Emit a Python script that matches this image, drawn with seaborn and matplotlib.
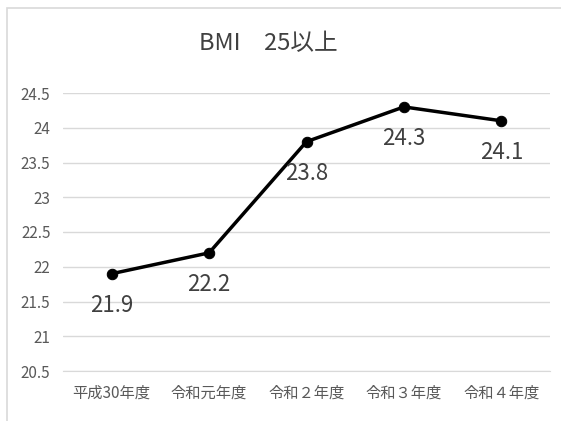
import matplotlib
matplotlib.use('Agg')
import matplotlib.pyplot as plt
import matplotlib.patches as patches
import seaborn as sns
import pandas as pd
from matplotlib.ticker import FuncFormatter

years = ['平成30年度', '令和元年度', '令和２年度', '令和３年度', '令和４年度']
bmi_values = [21.9, 22.2, 23.8, 24.3, 24.1]
y_ticks = [20.5, 21, 21.5, 22, 22.5, 23, 23.5, 24, 24.5]
title = 'BMI\u300025以上'

sns.set_style('white')
plt.rcParams['font.family'] = ['Noto Sans CJK JP', 'DejaVu Sans']

df = pd.DataFrame({'year': years, 'bmi': bmi_values})
df['pos'] = range(len(years))

fig = plt.figure(figsize=(5.61, 4.21), dpi=100)
# chart area border like the spreadsheet export
fig.patches.append(patches.Rectangle((7 / 561, -0.1), 1.0, 1 - 8 / 421 + 0.1,
                                     transform=fig.transFigure, fill=False,
                                     edgecolor='#d9d9d9', linewidth=1.2))
ax = fig.add_axes([63 / 561, 50 / 421, 487 / 561, 278 / 421])

sns.lineplot(data=df, x='pos', y='bmi', ax=ax, color='black', linewidth=2.5,
             marker='o', markersize=7.5, markeredgecolor='black')

for x, y in zip(df['pos'], df['bmi']):
    ax.annotate(f'{y:.1f}', (x, y), xytext=(0, -23), textcoords='offset points',
                ha='center', va='center', fontsize=16, color='#404040')

ax.set_xlim(-0.5, len(years) - 0.5)
ax.set_ylim(20.5, 24.5)
ax.set_yticks(y_ticks)
ax.yaxis.set_major_formatter(FuncFormatter(lambda v, p: f'{v:g}'))
ax.set_xticks(df['pos'])
ax.set_xticklabels(years)
ax.grid(axis='y', color='#d9d9d9', linewidth=1)
ax.set_axisbelow(True)
for s in ['top', 'right', 'left']:
    ax.spines[s].set_visible(False)
ax.spines['bottom'].set_color('#d9d9d9')
ax.tick_params(axis='both', length=0, labelsize=11, colors='#595959')
ax.tick_params(axis='y', pad=9)
ax.tick_params(axis='x', pad=10)
ax.set_xlabel('')
ax.set_ylabel('')

fig.text(268 / 561, 1 - 44 / 421, title, ha='center', va='center',
         fontsize=17, color='#404040')

fig.savefig('out.png', dpi=100)
